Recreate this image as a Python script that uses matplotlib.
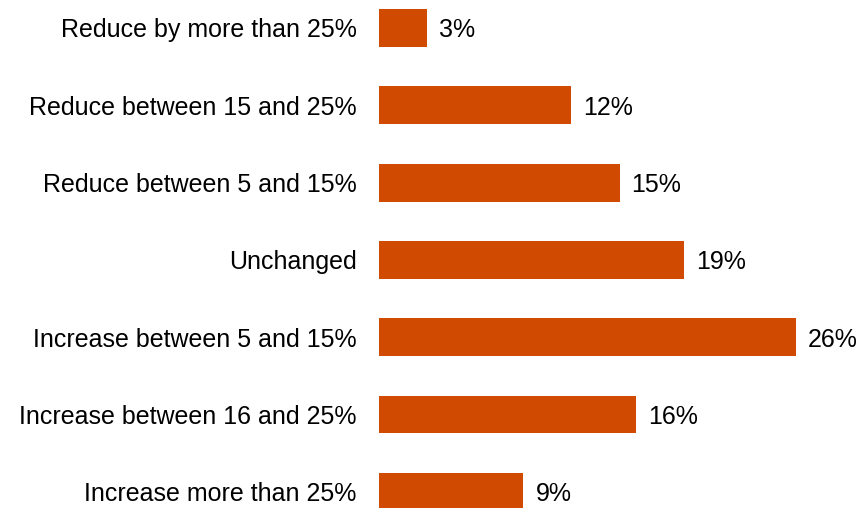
import matplotlib.pyplot as plt

categories = [
    "Reduce by more than 25%",
    "Reduce between 15 and 25%",
    "Reduce between 5 and 15%",
    "Unchanged",
    "Increase between 5 and 15%",
    "Increase between 16 and 25%",
    "Increase more than 25%",
]
shares = [3, 12, 15, 19, 26, 16, 9]

plt.rcParams['font.family'] = ['Liberation Sans', 'DejaVu Sans']

fig = plt.figure(figsize=(8.63, 5.08), dpi=100)
ax = fig.add_axes([379 / 863, 0, (796 - 379) / 863, 1])

pos = list(range(len(categories)))
ax.barh(pos, shares, height=0.49, color='#D04A02')

for y, v in zip(pos, shares):
    ax.text(v + 0.75, y + 0.03, f"{v}%", va='center', ha='left', fontsize=18)

ax.set_xlim(0, 26)
ax.set_ylim(480 / 77.3, -28 / 77.3)
ax.set_yticks(pos)
ax.set_yticklabels(categories, fontsize=18)
for lbl in ax.get_yticklabels():
    lbl.set_y(lbl.get_position()[1])
ax.tick_params(axis='y', length=0, pad=16)
ax.set_xticks([])
for s in ax.spines.values():
    s.set_visible(False)

fig.savefig("out.png", dpi=100)
